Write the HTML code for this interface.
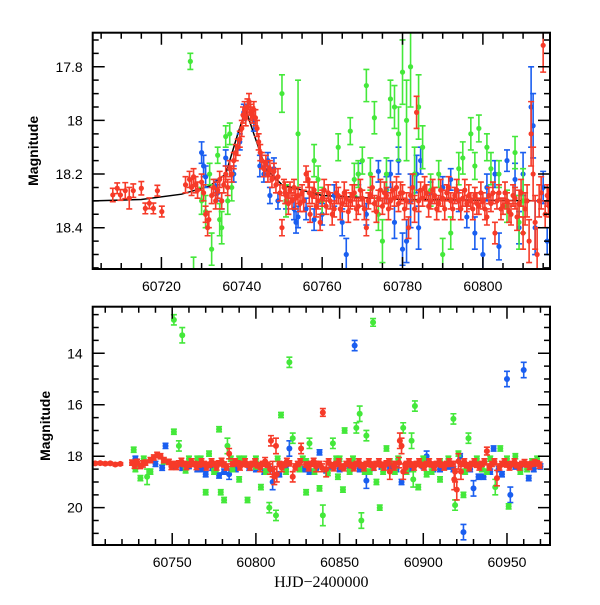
<!DOCTYPE html>
<html><head><meta charset="utf-8"><style>
body{margin:0;background:#fff}
svg text{font-family:"Liberation Sans",sans-serif;font-size:14px;fill:#000}
</style></head><body>
<svg id="chart" width="600" height="600" xmlns="http://www.w3.org/2000/svg"></svg>
<script>
// ---- data: [x, mag, err] ----
const topRed=[[60707.9,18.278,.025],[60709,18.253,.02],[60709.8,18.278,.02],[60711,18.262,.03],[60712,18.29,.04],[60713,18.262,.025],[60715,18.253,.025],[60716,18.328,.02],[60717,18.309,.02],[60718,18.328,.02],[60719,18.262,.02],[60720.1,18.34,.02],
[60726,18.24,.03],[60727,18.22,.03],[60727.5,18.25,.03],[60728,18.21,.03],[60728.5,18.24,.03],[60729,18.26,.03],[60730,18.23,.03],[60730.5,18.27,.03],[60731,18.35,.03],[60731.5,18.40,.03],[60731.8,18.37,.03],[60732.5,18.28,.03],[60733,18.25,.03],[60733.5,18.3,.03],[60734,18.26,.03],[60734.5,18.22,.03],[60735,18.3,.03],[60735.5,18.24,.03],[60736,18.2,.03],[60736.5,18.25,.03],[60737,18.18,.03],[60737.5,18.2,.03],[60738,18.15,.03],[60738.5,18.12,.03],[60739,18.1,.03],[60739.5,18.07,.03],[60740,18.03,.03],[60740.3,17.98,.03],[60740.7,17.96,.03],[60741,17.99,.03],[60741.4,17.95,.03],[60741.8,17.93,.03],[60742.2,17.97,.03],[60742.6,17.98,.03],[60743,17.96,.03],[60743.4,17.99,.03],[60743.8,18.03,.03],[60744.2,18.08,.03],[60744.6,18.12,.03],[60745,18.15,.03],[60745.5,18.18,.03],[60746,18.16,.03],[60746.5,18.2,.03],[60747,18.18,.03],[60747.5,18.22,.03],[60748,18.19,.03],[60748.5,18.24,.03],[60749,18.21,.03],[60749.5,18.27,.03],[60750,18.4,.03],[60750.5,18.25,.03],[60751,18.28,.03],[60752,18.26,.03],[60752.5,18.3,.03],[60753,18.25,.03],[60754,18.28,.03],[60754.5,18.31,.03],[60755,18.27,.03],[60756,18.2,.03],[60756.5,18.22,.03],[60757,18.35,.03],[60757.5,18.28,.03],[60758,18.26,.03],[60759,18.3,.03],[60759.5,18.38,.03],[60760,18.29,.03],[60761,18.32,.03],[60761.5,18.27,.03],[60762,18.3,.03],[60763,18.33,.03],[60764,18.28,.03],[60765,18.31,.03],[60766,18.29,.03],[60767,18.3,.03],[60768,18.27,.03],[60769,18.32,.03],[60770,18.29,.03],[60771,18.4,.03],[60771.5,18.3,.03],[60772,18.28,.03],[60773,18.31,.03],[60774,18.29,.03],[60775,18.32,.03],[60776,18.28,.03],[60777,18.3,.03],[60777.5,18.26,.03],[60778,18.29,.03],[60779,18.31,.03],[60780,18.27,.03],[60781,18.3,.03],[60781.5,18.4,.04],[60782,18.28,.03],[60783,18.33,.05],[60783.5,17.97,.06],[60784,18.3,.04],[60784.5,18.26,.03],[60785,18.29,.03],[60786,18.27,.03],[60787,18.3,.03],[60788,18.28,.03],[60789,18.31,.03],[60790,18.29,.03],[60791,18.27,.03],[60792,18.3,.03],[60793,18.28,.03],[60794,18.3,.03],[60795,18.29,.03],[60796,18.31,.03],[60797,18.3,.03],[60798,18.28,.03],[60799,18.32,.03],[60800,18.3,.03],[60801,18.36,.03],[60801.5,18.28,.03],[60802,18.31,.03],[60803,18.42,.04],[60803.5,18.3,.03],[60804,18.27,.03],[60805,18.32,.03],[60806,18.3,.03],[60807,18.35,.04],[60808,18.29,.04],[60809,18.31,.05],[60810,18.42,.06],[60811,18.3,.06],[60812,18.05,.12],[60812.5,18.2,.1],[60813,18.38,.1],[60813.5,18.5,.1],[60814,18.3,.06],[60815,17.72,.1],[60815.5,18.35,.05],[60816,18.28,.04],[60816.5,18.32,.04]];
const topRed2=[[60750.8,18.27,.04],[60751.6,18.31,.04],[60753.4,18.29,.04],[60755.4,18.3,.04],[60756.8,18.27,.04],[60758.5,18.32,.04],[60760.5,18.26,.04],[60762.5,18.35,.04],[60763.5,18.27,.04],[60764.5,18.33,.04],[60765.5,18.27,.04],[60766.5,18.34,.04],[60767.5,18.28,.04],[60768.5,18.33,.04],[60769.5,18.26,.04],[60770.5,18.33,.04],[60772.5,18.25,.04],[60773.5,18.34,.04],[60774.5,18.26,.04],[60775.5,18.27,.04],[60776.5,18.33,.04],[60778.5,18.25,.04],[60779.5,18.27,.04],[60780.5,18.33,.04],[60782.5,18.25,.05],[60785.5,18.25,.04],[60786.5,18.32,.04],[60787.5,18.26,.04],[60788.5,18.33,.04],[60789.5,18.26,.04],[60790.5,18.33,.04],[60791.5,18.25,.04],[60792.5,18.33,.04],[60793.5,18.26,.04],[60794.5,18.33,.04],[60795.5,18.26,.04],[60796.5,18.28,.04],[60797.5,18.33,.04],[60798.5,18.31,.04],[60799.5,18.27,.04],[60800.5,18.33,.04],[60802.5,18.27,.04],[60804.5,18.33,.04],[60805.5,18.27,.04],[60806.5,18.34,.04],[60807.5,18.28,.04],[60808.5,18.36,.05],[60809.5,18.27,.05],[60810.5,18.33,.06],[60811.5,18.45,.08],[60814.5,18.27,.06],[60816.3,18.3,.05]];
const topBlue=[[60730,18.12,.04],[60730.5,18.17,.04],[60731,18.21,.04],[60733.5,18.25,.03],[60734,18.27,.03],[60735,18.3,.03],[60736,18.14,.03],[60737,18.18,.03],[60738,18.2,.03],[60739.5,18.08,.03],[60740.5,17.97,.03],[60743,18.0,.04],[60744.5,18.17,.04],[60745.5,18.2,.03],[60746.5,18.15,.03],[60747,18.28,.03],[60748,18.18,.04],[60749,18.3,.03],[60751,18.3,.03],[60753,18.33,.04],[60753.5,18.38,.04],[60754,18.36,.04],[60756,18.33,.04],[60758,18.37,.04],[60760,18.35,.04],[60763,18.28,.04],[60765,18.38,.05],[60766,18.5,.06],[60769,18.2,.04],[60771,18.35,.04],[60774,18.19,.04],[60776,18.26,.05],[60777,18.2,.05],[60778,18.38,.06],[60779,18.15,.05],[60780,18.48,.06],[60781,18.45,.08],[60782,18.3,.1],[60783.5,18.2,.07],[60784,18.4,.08],[60784.5,18.15,.05],[60787,18.27,.04],[60790,18.25,.04],[60792,18.22,.04],[60794,18.3,.04],[60796,18.36,.04],[60798,18.42,.06],[60800,18.5,.06],[60801,18.25,.05],[60803,18.2,.05],[60804,18.47,.05],[60806,18.15,.04],[60808,18.22,.06],[60809,18.4,.06],[60810,18.2,.08],[60812,17.95,.15],[60812.5,18.02,.12],[60813,18.4,.1],[60815,18.25,.06],[60816,18.45,.05]];
const topGreen=[[60727.2,17.78,.03],[60728,18.57,.06],[60730,18.3,.05],[60731,18.34,.06],[60732,18.2,.04],[60732.5,18.48,.06],[60734,18.13,.03],[60734.5,18.37,.06],[60735,18.4,.06],[60736,18.06,.04],[60736.5,18.3,.05],[60737,18.05,.04],[60737.5,18.25,.05],[60750,17.9,.07],[60751,18.3,.06],[60754,18.05,.2],[60758,18.15,.06],[60759,18.22,.05],[60760,18.3,.05],[60764,18.1,.05],[60767,18.04,.05],[60768,18.22,.06],[60769,18.2,.05],[60770,18.15,.05],[60771,17.87,.06],[60772,18.2,.06],[60773,17.99,.06],[60774,18.35,.06],[60775,18.45,.08],[60776,18.2,.06],[60777,17.92,.07],[60778,17.95,.08],[60779,18.05,.1],[60780,17.82,.12],[60781,18.0,.15],[60782,17.8,.15],[60783,18.2,.1],[60784,17.95,.12],[60785,18.1,.08],[60787,18.26,.06],[60789,18.2,.05],[60790,18.5,.06],[60792,18.42,.06],[60794,18.18,.06],[60795,18.14,.06],[60797,18.05,.06],[60798,18.17,.05],[60799,18.03,.05],[60801,18.1,.05],[60802,18.18,.06],[60804,18.2,.05],[60806,18.32,.06],[60808,18.12,.06],[60809,18.38,.1],[60810,18.3,.12]];
const modelCurve=[[60703,18.30],[60715,18.295],[60725,18.275],[60732,18.245],[60736,18.20],[60739,18.05],[60741,17.96],[60743,18.05],[60746,18.18],[60750,18.24],[60760,18.28],[60780,18.295],[60817,18.30]];
const botRed=[[60704,18.28,.05],[60707,18.27,.05],[60710,18.29,.05],[60713,18.28,.05],[60716,18.32,.05],[60719,18.3,.05],[60726,18.25,.1],[60729,18.22,.1],[60731,18.38,.1],[60734,18.25,.1],[60737,18.15,.1],[60739,18.05,.1],[60741,17.95,.1],[60743,18.0,.1],[60745,18.15,.1],[60748,18.22,.1],[60751,18.3,.1],[60754,18.28,.1],[60757,18.3,.1],[60760,18.32,.1],[60763,18.3,.1],[60766,18.32,.1],[60769,18.3,.1],[60772,18.33,.1],[60775,18.3,.1],[60778,18.28,.1],[60781,18.32,.1],[60784,17.9,.2],[60786,18.3,.1],[60789,18.28,.1],[60792,18.3,.1],[60795,18.32,.1],[60798,18.3,.1],[60801,18.35,.1],[60804,18.3,.1],[60807,18.33,.1],[60809,17.4,.2],[60810,18.5,.3],[60811,18.8,.3],[60812,17.6,.3],[60814,18.3,.1],[60817,18.32,.1],[60820,18.28,.1],[60822,18.8,.2],[60825,18.3,.1],[60827,17.7,.2],[60830,18.32,.1],[60833,18.3,.1],[60836,18.4,.2],[60838,18.3,.1],[60840,16.3,.15],[60842,18.5,.3],[60845,18.35,.1],[60848,18.3,.1],[60851,18.4,.1],[60854,18.3,.1],[60857,18.35,.1],[60860,18.3,.1],[60863,18.35,.1],[60866,18.3,.1],[60869,18.32,.1],[60872,18.3,.1],[60875,18.33,.1],[60878,18.28,.1],[60880,18.6,.3],[60883,18.3,.1],[60886,17.4,.3],[60887,17.6,.3],[60888,18.6,.3],[60890,18.3,.1],[60893,18.32,.1],[60896,18.3,.1],[60899,18.34,.1],[60902,18.3,.1],[60905,18.32,.1],[60908,18.3,.1],[60911,18.33,.1],[60914,18.3,.1],[60917,18.3,.1],[60919,18.6,.4],[60920,19.3,.4],[60921,18.2,.3],[60923,18.3,.1],[60926,18.35,.1],[60929,18.3,.1],[60932,18.33,.1],[60935,18.3,.1],[60938,17.8,.15],[60941,18.3,.1],[60944,18.85,.3],[60947,18.3,.1],[60950,18.32,.1],[60953,18.3,.1],[60956,18.35,.1],[60959,18.3,.1],[60962,18.32,.1],[60965,18.3,.1],[60968,18.28,.1]];
const botRed2=[[60727.5,18.35,.12],[60732.5,18.3,.12],[60749.5,18.4,.12],[60752.5,18.4,.12],[60755.5,18.2,.12],[60758.5,18.4,.12],[60761.5,18.22,.12],[60764.5,18.4,.12],[60767.5,18.22,.12],[60770.5,18.42,.12],[60773.5,18.22,.12],[60776.5,18.42,.12],[60779.5,18.2,.12],[60782.5,18.42,.12],[60787.5,18.22,.12],[60790.5,18.42,.12],[60793.5,18.22,.12],[60796.5,18.42,.12],[60799.5,18.22,.12],[60802.5,18.45,.15],[60805.5,18.2,.15],[60808.5,18.5,.2],[60812.5,18.7,.3],[60815.5,18.45,.15],[60818.5,18.2,.12],[60823.5,18.42,.12],[60826.5,18.22,.12],[60831.5,18.45,.12],[60834.5,18.2,.12],[60839.5,18.45,.15],[60843.5,18.22,.12],[60846.5,18.45,.12],[60849.5,18.22,.12],[60852.5,18.45,.12],[60855.5,18.22,.12],[60858.5,18.45,.12],[60861.5,18.22,.12],[60864.5,18.45,.12],[60867.5,18.22,.12],[60870.5,18.42,.12],[60873.5,18.22,.12],[60876.5,18.42,.12],[60879.5,18.22,.12],[60882.5,18.42,.12],[60885.5,18.25,.2],[60889.5,18.45,.2],[60891.5,18.22,.12],[60894.5,18.42,.12],[60897.5,18.22,.12],[60900.5,18.42,.12],[60903.5,18.22,.12],[60906.5,18.42,.12],[60909.5,18.22,.12],[60912.5,18.42,.12],[60915.5,18.22,.12],[60918.5,18.9,.4],[60922.5,18.6,.3],[60924.5,18.22,.12],[60927.5,18.45,.12],[60930.5,18.22,.12],[60933.5,18.42,.12],[60936.5,18.22,.12],[60939.5,18.42,.12],[60942.5,18.22,.12],[60945.5,18.42,.12],[60948.5,18.22,.12],[60951.5,18.42,.12],[60954.5,18.22,.12],[60957.5,18.42,.12],[60960.5,18.25,.12],[60963.5,18.4,.12],[60966.5,18.25,.12],[60969.5,18.35,.12]];
const botBlue=[[60728,18.1,.1],[60740,18.3,.1],[60746,17.6,.1],[60752,18.4,.1],[60760,18.38,.1],[60765,18.5,.1],[60770,18.7,.1],[60778,18.75,.1],[60781,18.6,.1],[60784,18.7,.2],[60790,18.35,.1],[60800,18.5,.1],[60805,18.6,.1],[60810,19.0,.3],[60814,18.7,.1],[60820,17.7,.3],[60825,18.4,.1],[60832,18.6,.1],[60838,17.85,.1],[60845,18.4,.1],[60850,18.5,.1],[60859,13.7,.2],[60866,18.95,.3],[60875,18.4,.1],[60880,18.4,.1],[60887,19.0,.1],[60900,18.38,.1],[60902,18.0,.2],[60910,18.5,.1],[60915,18.4,.1],[60922,18.0,.1],[60924,20.95,.3],[60930,19.25,.3],[60933,18.8,.1],[60936,18.8,.1],[60940,18.6,.1],[60942,17.7,.1],[60947,18.7,.1],[60950,15.0,.3],[60952,19.5,.3],[60955,18.4,.1],[60960,14.65,.3],[60963,18.85,.1],[60966,18.5,.1],[60970,18.4,.1],
[60744,18.45,.1],[60756,18.45,.1],[60768,18.5,.1],[60774,18.45,.1],[60788,18.5,.1],[60796,18.45,.1],[60808,18.5,.1],[60818,18.5,.1],[60829,18.5,.1],[60836,18.5,.1],[60842,18.55,.1],[60856,18.5,.1],[60862,18.5,.1],[60870,18.45,.1],[60884,18.5,.1],[60893,18.5,.1],[60906,18.5,.1],[60918,18.5,.1],[60928,18.5,.1],[60945,18.5,.1],[60958,18.45,.1]];
const botGreen=[[60727,17.75,.1],[60728,18.5,.1],[60731,18.85,.1],[60735,18.8,.3],[60737,18.6,.1],[60745,18.2,.1],[60751,12.7,.2],[60751,17.05,.1],[60754,17.6,.2],[60756,13.3,.3],[60760,18.1,.1],[60765,18.1,.1],[60770,19.4,.1],[60772,17.9,.1],[60776,18.5,.1],[60778,16.95,.1],[60779,19.4,.1],[60781,19.7,.1],[60783,17.6,.3],[60786,18.5,.1],[60790,18.1,.1],[60790,18.9,.1],[60795,19.7,.1],[60800,18.1,.1],[60800,18.4,.1],[60803,19.2,.1],[60808,20.0,.2],[60812,20.3,.2],[60815,16.4,.1],[60820,14.35,.2],[60822,17.3,.2],[60826,18.5,.1],[60830,19.4,.1],[60830,18.2,.1],[60832,17.5,.2],[60838,19.25,.1],[60840,20.3,.4],[60846,17.5,.2],[60849,18.8,.1],[60850,18.1,.1],[60852,19.3,.1],[60853,17.0,.1],[60856,18.6,.1],[60860,16.9,.2],[60862,16.35,.3],[60863,20.5,.3],[60866,17.2,.2],[60868,18.6,.1],[60870,12.8,.15],[60872,19.0,.1],[60874,20.0,.1],[60878,17.7,.1],[60880,18.2,.1],[60883,18.6,.1],[60888,16.9,.2],[60893,17.4,.3],[60894,18.9,.3],[60895,16.05,.2],[60897,19.2,.1],[60902,18.7,.1],[60910,18.9,.1],[60910,18.2,.1],[60918,16.55,.2],[60919,19.9,.2],[60921,17.9,.1],[60924,19.5,.1],[60927,17.3,.2],[60935,18.5,.1],[60940,18.1,.1],[60943,19.2,.3],[60946,17.7,.1],[60951,19.95,.1],[60955,18.0,.1],[60962,18.5,.1],[60965,18.2,.1],
[60733,18.1,.1],[60758,18.55,.1],[60767,18.1,.1],[60775,18.6,.1],[60785,18.1,.1],[60793,18.1,.1],[60806,18.6,.1],[60813,18.1,.1],[60818,18.6,.1],[60828,18.1,.1],[60835,18.6,.1],[60843,18.65,.1],[60848,18.1,.1],[60858,18.1,.1],[60865,18.6,.1],[60876,18.6,.1],[60885,18.1,.1],[60890,18.6,.1],[60900,18.1,.1],[60905,18.6,.1],[60915,18.1,.1],[60925,18.6,.1],[60932,18.1,.1],[60938,18.6,.1],[60950,18.1,.1],[60958,18.6,.1],[60968,18.1,.1]];
const topXTicks=[60720,60740,60760,60780,60800];
const topYTicks=[17.8,18,18.2,18.4];
const botXTicks=[60750,60800,60850,60900,60950];
const botYTicks=[14,16,18,20];

const NS="http://www.w3.org/2000/svg";
const svg=document.getElementById('chart');
function el(tag,attrs,parent){const e=document.createElementNS(NS,tag);for(const k in attrs)e.setAttribute(k,attrs[k]);(parent||svg).appendChild(e);return e;}
const COL={red:"#f63a28",blue:"#1a5ef0",green:"#44e83a"};

function panel(name,box,xd,yd,xt,xminor,yt,yminor,ylabX,series,curve,xlabel,rad){
  const g=el('g',{});
  
  
  const sx=v=>box.l+(v-xd[0])/(xd[1]-xd[0])*(box.r-box.l);
  const sy=v=>box.t+(v-yd[0])/(yd[1]-yd[0])*(box.b-box.t);
  const clipId='clip-'+name;
  const cp=el('clipPath',{id:clipId},g);
  el('rect',{x:box.l,y:box.t,width:box.r-box.l,height:box.b-box.t},cp);
  const plot=el('g',{'clip-path':'url(#'+clipId+')'},g);
  if(curve){
    const p=el('path',{d:curve.map((d,i)=>(i?'L':'M')+sx(d[0]).toFixed(1)+' '+sy(d[1]).toFixed(1)).join(''),fill:'none',stroke:'#000','stroke-width':1.5},plot);
    
    
  }
  series.forEach(s=>{
    const sg=el('g',{fill:COL[s.c],stroke:COL[s.c],'stroke-width':1.6},plot);
    
    
    s.d.forEach(d=>{
      const x=sx(d[0]),y1=sy(d[1]-d[2]),y2=sy(d[1]+d[2]),y=sy(d[1]);
      el('path',{d:`M${x} ${y1}V${y2}M${x-3} ${y1}h6M${x-3} ${y2}h6`,fill:'none'},sg);
      const c=el('circle',{cx:x,cy:y,r:rad,stroke:'none'},sg);
      
      
    });
  });
  el('rect',{x:box.l,y:box.t,width:box.r-box.l,height:box.b-box.t,fill:'none',stroke:'#000','stroke-width':2},g);
  const tk=el('g',{stroke:'#000','stroke-width':1.5},g);
  for(let v=Math.ceil(xd[0]/xminor)*xminor;v<=xd[1];v+=xminor){
    const major=xt.some(t=>Math.abs(t-v)<1e-6);const L=major?12:6;const x=sx(v);
    el('path',{d:`M${x} ${box.b}v${-L}M${x} ${box.t}v${L}`},tk);
  }
  for(let v=Math.ceil(yd[0]/yminor-1e-6)*yminor;v<=yd[1]+1e-9;v+=yminor){
    const major=yt.some(t=>Math.abs(t-v)<1e-6);const L=major?12:6;const y=sy(v);
    el('path',{d:`M${box.l} ${y}h${L}M${box.r} ${y}h${-L}`},tk);
  }
  xt.forEach(v=>{const t=el('text',{x:sx(v),y:box.b+22,'text-anchor':'middle'},g);t.textContent=v;
    });
  yt.forEach(v=>{const t=el('text',{x:box.l-10,y:sy(v)+5,'text-anchor':'end'},g);t.textContent=v;
    });
  const yl=el('text',{x:ylabX,y:(box.t+box.b)/2,'text-anchor':'middle','font-weight':'bold',transform:`rotate(-90 ${ylabX} ${(box.t+box.b)/2})`},g);
  yl.textContent='Magnitude';
  
  
  if(xlabel){const t=el('text',{x:(box.l+box.r)/2,y:box.b+42,'text-anchor':'middle',style:'font-family:"Liberation Serif",serif;font-size:16px'},g);t.textContent=xlabel;
    }
}
panel('top-panel',{l:92.7,r:550,t:32.7,b:269},[60702.9,60816.7],[17.673,18.554],topXTicks,5,topYTicks,0.05,38,
  [{c:'blue',d:topBlue},{c:'green',d:topGreen},{c:'red',d:topRed2},{c:'red',d:topRed}],modelCurve,null,2.6);
panel('bottom-panel',{l:92.7,r:550,t:306.7,b:545},[60702.5,60975.7],[12.19,21.45],botXTicks,10,botYTicks,0.5,50,
  [{c:'blue',d:botBlue},{c:'green',d:botGreen},{c:'red',d:botRed2},{c:'red',d:botRed}],null,'HJD\u22122400000',3);
</script>
</body></html>
